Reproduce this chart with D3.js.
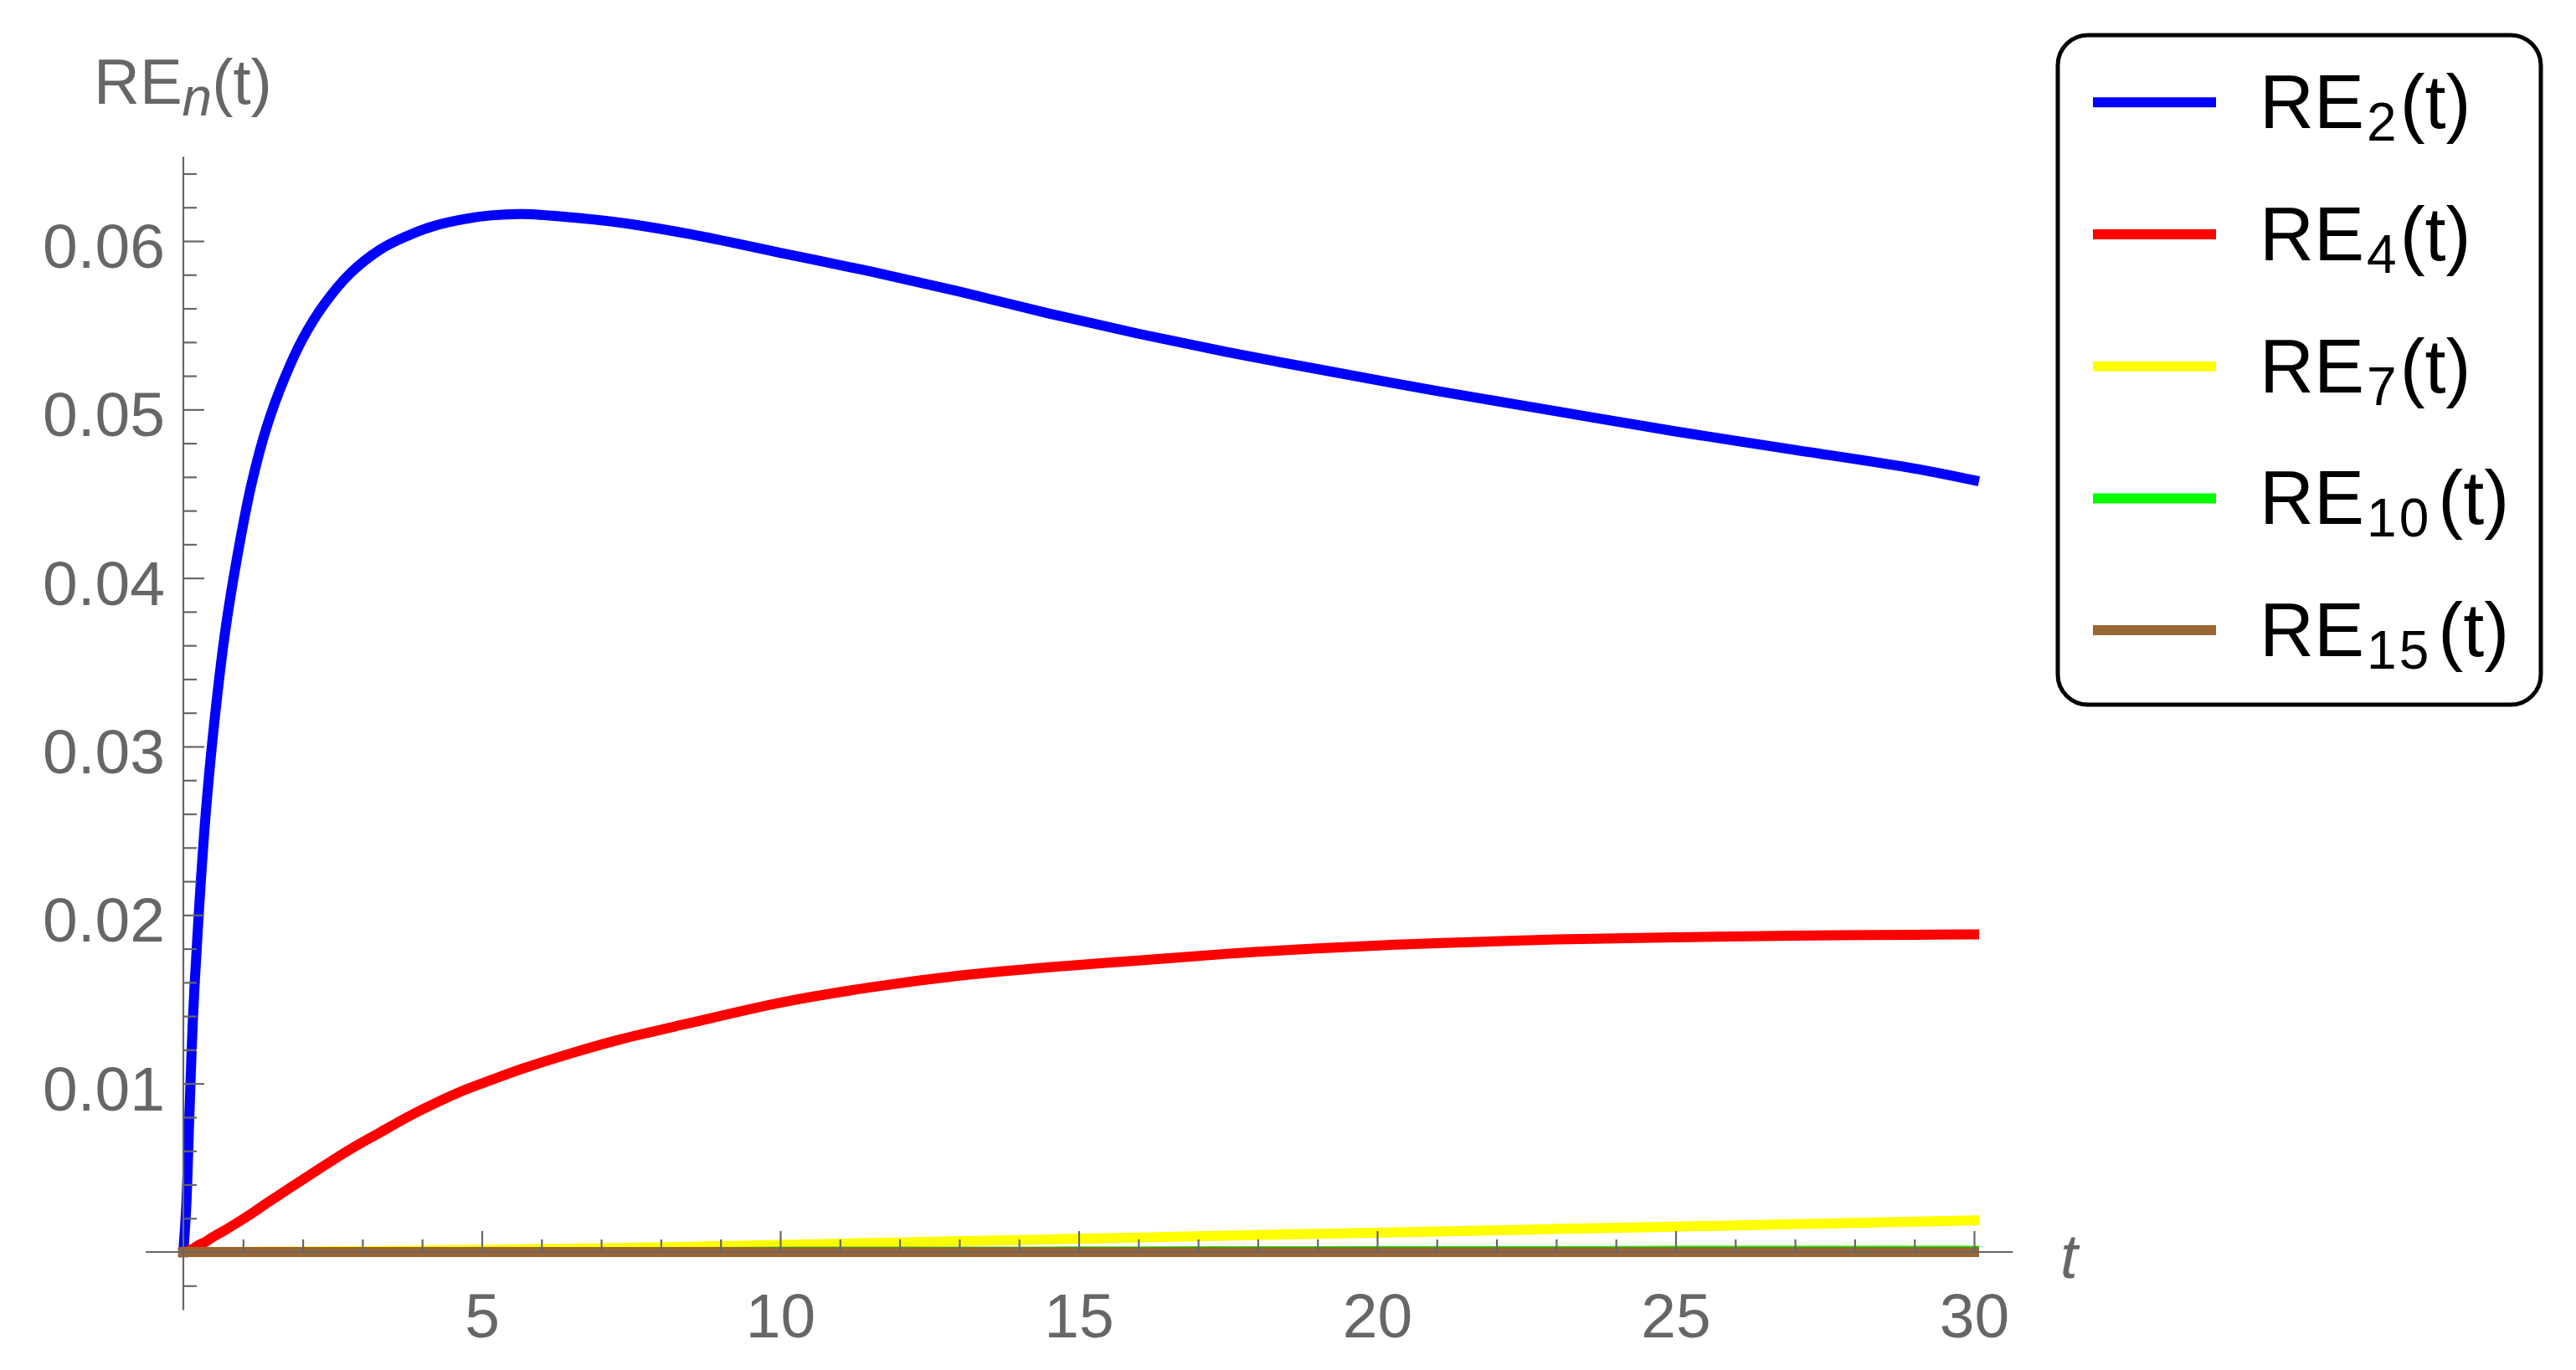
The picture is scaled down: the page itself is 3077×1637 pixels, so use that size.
<!DOCTYPE html>
<html>
<head>
<meta charset="utf-8">
<script src="https://cdn.jsdelivr.net/npm/d3@7"></script>
<style>
  body { margin: 0; background: #fff; }
  svg { display: block; font-family: "Liberation Sans", Arial, sans-serif; }
</style>
</head>
<body>
<script>
// values -----------------------------------------------------------------------
var tValues = [0, 0.05, 0.1, 0.16, 0.25, 0.37, 0.5, 0.7, 0.93, 1.15, 1.4, 1.7, 2, 2.35, 2.8, 3.3, 3.75, 4.2, 4.7, 5.15, 5.7, 6.5, 7.3, 8.5, 10, 11.5, 13, 14.5, 16, 17.5, 19, 21, 23, 25, 27, 29, 30];

var re2 = [0, 0.0028, 0.0080, 0.0138, 0.0196, 0.0258, 0.0308, 0.0368, 0.0418, 0.0457, 0.0490, 0.0519, 0.0542, 0.0562, 0.0581, 0.0595, 0.0603, 0.0609, 0.0613, 0.06152, 0.0616, 0.0614, 0.0611, 0.0604, 0.0593, 0.0582, 0.0570, 0.0557, 0.0545, 0.0534, 0.0524, 0.0511, 0.0499, 0.0487, 0.0476, 0.0465, 0.0458];
var re4 = [0, 0.00003, 0.0001, 0.0002, 0.0004, 0.0006, 0.0009, 0.0013, 0.0018, 0.0023, 0.0029, 0.0036, 0.0043, 0.0051, 0.0061, 0.0071, 0.0080, 0.0088, 0.0096, 0.0102, 0.0109, 0.0118, 0.0126, 0.0136, 0.0148, 0.0157, 0.0164, 0.0169, 0.0173, 0.0177, 0.01802, 0.01833, 0.01855, 0.01868, 0.01877, 0.01883, 0.01885];
var re7 = [0, 0, 0, 0, 0, 0, 0, 0, 0.00001, 0.00001, 0.00002, 0.00002, 0.00003, 0.00004, 0.00005, 0.00006, 0.00008, 0.0001, 0.00012, 0.00013, 0.00016, 0.0002, 0.00024, 0.00031, 0.00042, 0.00053, 0.00064, 0.00075, 0.00086, 0.00097, 0.00108, 0.00122, 0.00136, 0.0015, 0.00165, 0.0018, 0.00188];
var re10 = [0, 0, 0, 0, 0, 0, 0, 0, 0, 0, 0, 0, 0, 0, 0, 0, 0, 0, 0, 0, 0, 0, 0, 0, 0.00002, 0.00002, 0.00003, 0.00003, 0.00004, 0.00005, 0.00005, 0.00006, 0.00006, 0.00007, 0.00007, 0.00007, 0.00008];
var re15 = [0, 0, 0, 0, 0, 0, 0, 0, 0, 0, 0, 0, 0, 0, 0, 0, 0, 0, 0, 0, 0, 0, 0, 0, 0, 0, 0, 0, 0, 0, 0, 0, 0, 0, 0, 0, 0];

var seriesNames = ["2", "4", "7", "10", "15"];   // subscripts of RE_n(t)
var seriesColors = ["#0000ff", "#ff0000", "#ffff00", "#00ff00", "#996633"];
var seriesValues = [re2, re4, re7, re10, re15];

var xTickValues = [5, 10, 15, 20, 25, 30];
var yTickValues = [0.01, 0.02, 0.03, 0.04, 0.05, 0.06];

// svg area
var svgWidth = 3077;
var svgHeight = 1637;
var axisGray = "#666666";

var svg = d3.select("body")
  .append("svg")
  .attr("width", svgWidth)
  .attr("height", svgHeight);

svg.append("rect")
  .attr("width", svgWidth)
  .attr("height", svgHeight)
  .attr("fill", "white");

// scales (pixel spots of t=0/30 and RE=0/0.06)
var xScale = d3.scaleLinear().domain([0, 30]).range([219, 2358]);
var yScale = d3.scaleLinear().domain([0, 0.06]).range([1496, 288]);

// curves first, axes go on top like in the original
var line = d3.line()
  .x(function(d) { return xScale(d.t); })
  .y(function(d) { return yScale(d.v); })
  .curve(d3.curveCatmullRom.alpha(0.5));

var curveGroup = svg.append("g");
seriesValues.forEach(function(vals, i) {
  var pts = tValues.map(function(t, j) { return {t: t, v: vals[j]}; });
  curveGroup.append("path")
    .datum(pts)
    .attr("d", line)
    .attr("fill", "none")
    .attr("stroke", seriesColors[i])
    .attr("stroke-width", 12)
    .attr("stroke-linecap", "square")
    .attr("stroke-linejoin", "round");
});

// ---- x axis ----
var xMinor = d3.range(1, 30).filter(function(v) { return v % 5 !== 0; });
var xAxisY = yScale(0);

svg.append("line")  // axis line runs a bit past both ends
  .attr("x1", xScale(-0.63))
  .attr("x2", xScale(30.65))
  .attr("y1", xAxisY)
  .attr("y2", xAxisY)
  .attr("stroke", axisGray)
  .attr("stroke-width", 2.2);

svg.append("g")
  .attr("transform", `translate(0, ${xAxisY})`)
  .call(d3.axisTop(xScale).tickValues(xMinor).tickSize(15).tickSizeOuter(0).tickFormat(""))
  .call(function(g) { g.select(".domain").remove(); });

svg.append("g")
  .attr("transform", `translate(0, ${xAxisY})`)
  .call(d3.axisTop(xScale).tickValues(xTickValues).tickSize(25).tickSizeOuter(0).tickFormat(""))
  .call(function(g) { g.select(".domain").remove(); });

svg.append("g")  // x tick labels
  .attr("transform", `translate(0, ${xAxisY})`)
  .call(d3.axisBottom(xScale).tickValues(xTickValues).tickSize(0).tickPadding(49).tickFormat(d3.format("d")))
  .call(function(g) { g.select(".domain").remove(); });

// ---- y axis ----
var yMinor = d3.range(-1, 33).map(function(i) { return i * 0.002; })
  .filter(function(v, i) { return (i - 1) % 5 !== 0; });
var yAxisX = xScale(0);

svg.append("line")
  .attr("x1", yAxisX)
  .attr("x2", yAxisX)
  .attr("y1", yScale(0.065))
  .attr("y2", yScale(-0.00345))
  .attr("stroke", axisGray)
  .attr("stroke-width", 2.2);

svg.append("g")
  .attr("transform", `translate(${yAxisX}, 0)`)
  .call(d3.axisRight(yScale).tickValues(yMinor).tickSize(16).tickSizeOuter(0).tickFormat(""))
  .call(function(g) { g.select(".domain").remove(); });

svg.append("g")
  .attr("transform", `translate(${yAxisX}, 0)`)
  .call(d3.axisRight(yScale).tickValues(yTickValues).tickSize(25).tickSizeOuter(0).tickFormat(""))
  .call(function(g) { g.select(".domain").remove(); });

svg.append("g")  // y tick labels
  .attr("transform", `translate(${yAxisX}, 0)`)
  .call(d3.axisLeft(yScale).tickValues(yTickValues).tickSize(0).tickPadding(22).tickFormat(d3.format(".2f")))
  .call(function(g) { g.select(".domain").remove(); })
  .selectAll("text").attr("dy", "0.42em");

// style all the tick bits the same gray
svg.selectAll(".tick line")
  .attr("stroke", axisGray)
  .attr("stroke-width", 2.2);
svg.selectAll(".tick text")
  .attr("fill", axisGray)
  .attr("font-family", "Liberation Sans, Arial, sans-serif")
  .attr("font-size", "75px");

// axis labels
svg.append("text")
  .attr("x", 2461)
  .attr("y", 1527)
  .attr("fill", axisGray)
  .attr("font-size", "75px")
  .attr("font-style", "italic")
  .text("t");

var yLabel = svg.append("text")
  .attr("x", 112)
  .attr("y", 124)
  .attr("fill", axisGray)
  .attr("font-size", "76px");
yLabel.append("tspan").text("RE");
yLabel.append("tspan").attr("font-style", "italic").attr("font-size", "64px").attr("dy", 14).text("n");
yLabel.append("tspan").attr("dy", -14).text("(t)");

// ---- legend ----
var legend = svg.append("g");

legend.append("rect")
  .attr("x", 2458)
  .attr("y", 42)
  .attr("width", 577)
  .attr("height", 800)
  .attr("rx", 36)
  .attr("ry", 36)
  .attr("fill", "white")
  .attr("stroke", "black")
  .attr("stroke-width", 5);

var rowStep = 157.7;
seriesNames.forEach(function(name, i) {
  var ly = 122.3 + i * rowStep;
  legend.append("line")
    .attr("x1", 2500)
    .attr("x2", 2647)
    .attr("y1", ly)
    .attr("y2", ly)
    .attr("stroke", seriesColors[i])
    .attr("stroke-width", 12);

  var lt = legend.append("text")
    .attr("x", 2699)
    .attr("y", ly + 31)
    .attr("fill", "black")
    .attr("font-size", "90px");
  lt.append("tspan").text("RE");
  lt.append("tspan").attr("font-size", "64px").attr("dy", 15).attr("dx", 3)
    .attr("letter-spacing", name.length > 1 ? 3 : 0).text(name);
  lt.append("tspan").attr("dy", -15).attr("dx", name.length > 1 ? 8 : 4).text("(t)");
});
</script>
</body>
</html>
